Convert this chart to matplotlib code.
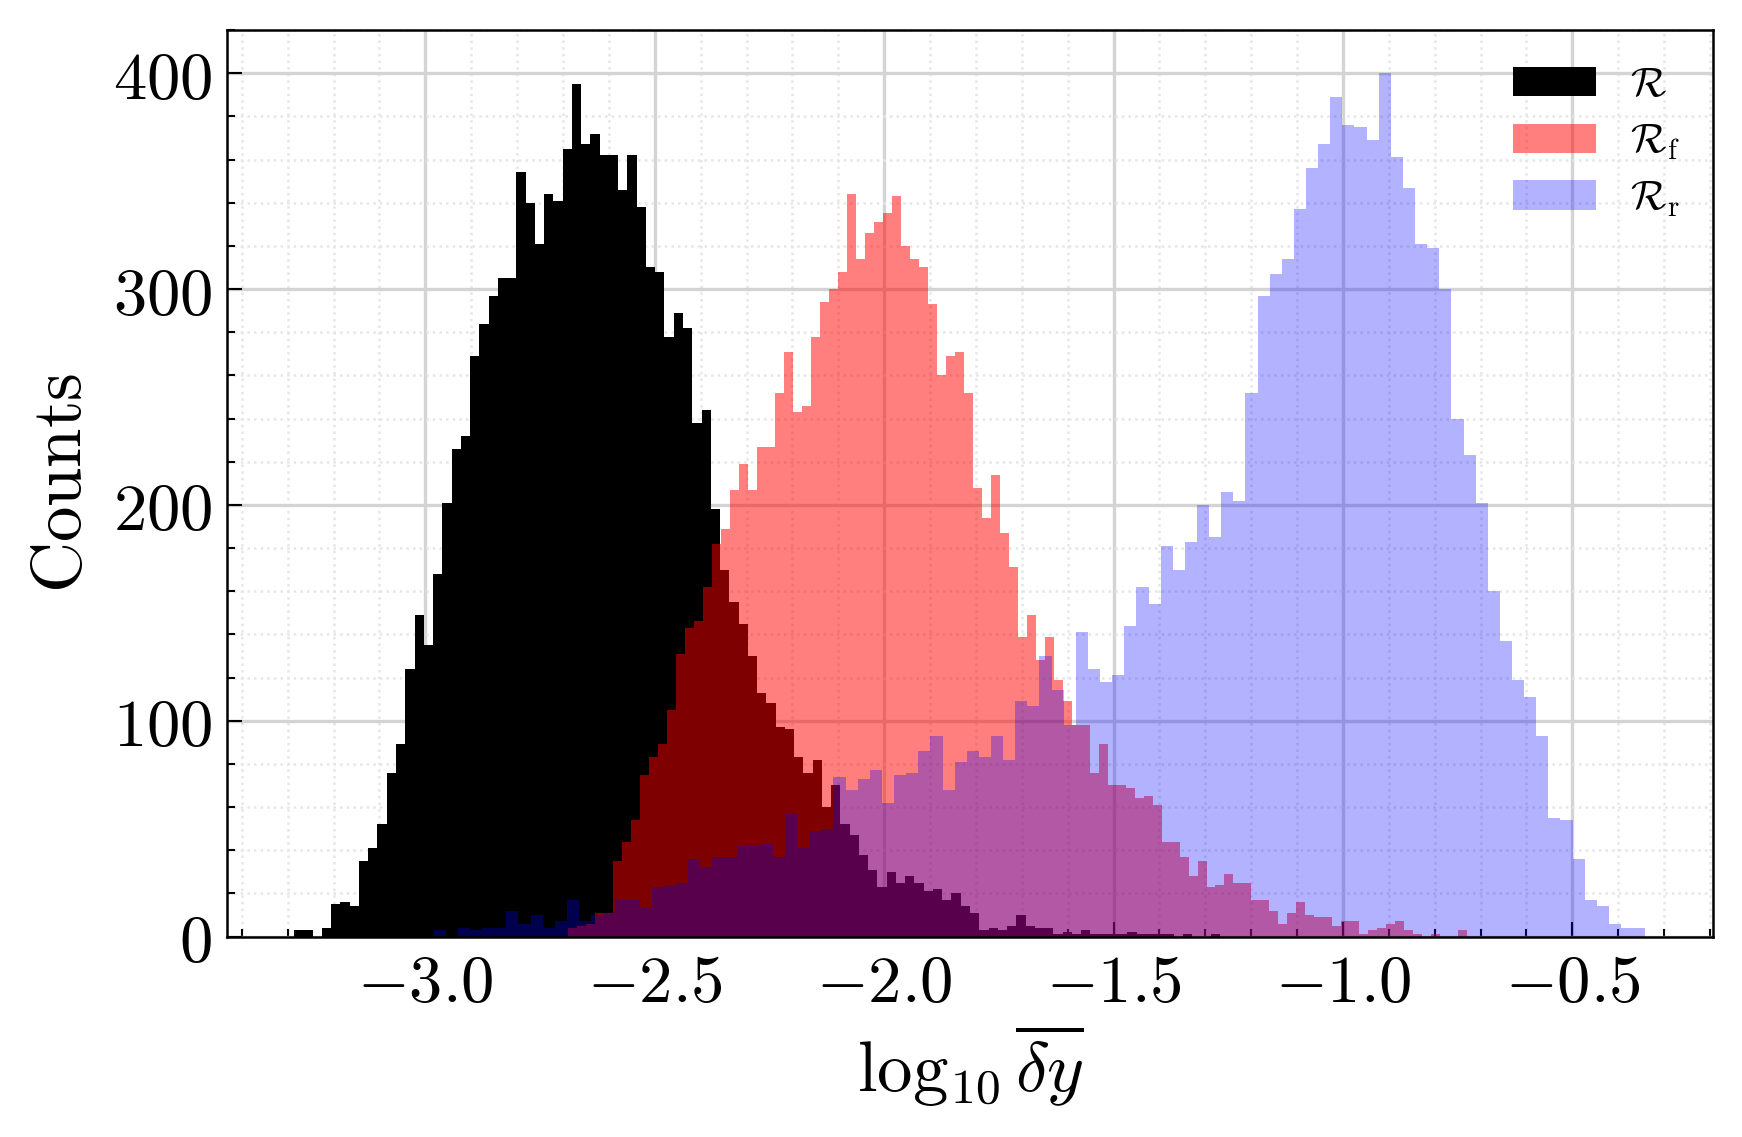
import numpy as np
import matplotlib
matplotlib.use("Agg")
import matplotlib.pyplot as plt
from matplotlib.ticker import MultipleLocator, FuncFormatter

plt.rcParams["mathtext.fontset"] = "cm"
plt.rcParams["font.family"] = "serif"

# Histogram ranges (data min / max of log10 of the mean error) and bin counts, 100 bins each
r_range = (-3.286, -1.268)
r_counts = [3, 3, 0, 4, 15, 16, 14, 35, 41, 52, 76, 89, 124, 149, 135, 168, 201, 226, 232, 269,
            284, 297, 305, 305, 354, 340, 321, 344, 341, 365, 395, 367, 372, 362, 362, 346, 362, 338, 310, 308,
            278, 289, 282, 238, 244, 198, 170, 155, 145, 130, 113, 108, 97, 96, 83, 76, 82, 60, 70, 52,
            47, 38, 31, 23, 30, 25, 28, 25, 21, 22, 17, 20, 14, 11, 3, 4, 3, 5, 10, 5,
            4, 4, 1, 2, 1, 3, 1, 1, 1, 1, 2, 1, 1, 1, 1, 0, 1, 0, 0, 1]

rf_range = (-2.689, -0.729)
rf_counts = [4, 5, 6, 11, 11, 35, 44, 54, 75, 83, 89, 105, 131, 143, 146, 162, 182, 189, 207, 219,
             207, 227, 227, 252, 271, 243, 246, 278, 294, 300, 308, 344, 314, 326, 331, 335, 343, 320, 314, 310,
             293, 260, 269, 271, 252, 208, 194, 214, 187, 171, 139, 149, 128, 139, 119, 109, 98, 98, 76, 89,
             70, 70, 69, 64, 65, 61, 44, 44, 37, 28, 35, 23, 24, 29, 25, 25, 17, 17, 12, 6,
             11, 16, 10, 9, 9, 5, 7, 7, 1, 3, 4, 6, 7, 3, 1, 0, 1, 0, 0, 3]

rr_range = (-2.982, -0.341)
rr_counts = [3, 0, 4, 3, 4, 4, 12, 6, 10, 4, 7, 17, 7, 10, 11, 17, 17, 13, 23, 24,
             25, 36, 32, 37, 37, 42, 42, 43, 37, 57, 41, 49, 50, 74, 68, 73, 77, 62, 75, 76,
             86, 93, 68, 81, 86, 83, 93, 82, 109, 107, 130, 114, 98, 141, 124, 118, 121, 144, 162, 154,
             181, 170, 183, 200, 185, 206, 202, 252, 297, 307, 314, 337, 356, 367, 389, 376, 375, 369, 400, 361,
             347, 321, 319, 300, 240, 223, 201, 160, 137, 119, 111, 93, 55, 54, 36, 17, 14, 6, 4, 4]

series = [
    (r_range, r_counts, "black", 1.0, r"$\mathcal{R}$"),
    (rf_range, rf_counts, "red", 0.5, r"$\mathcal{R}_\mathrm{f}$"),
    (rr_range, rr_counts, "blue", 0.3, r"$\mathcal{R}_\mathrm{r}$"),
]

fig = plt.figure(figsize=(1743 / 300, 1137 / 300), dpi=300)
ax = fig.add_axes([0.130, 0.1763, 0.8527, 0.7973])

for rng, counts, color, alpha, label in series:
    edges = np.linspace(rng[0], rng[1], len(counts) + 1)
    ax.hist(edges[:-1], bins=edges, weights=counts, color=color, alpha=alpha, label=label)

ax.xaxis.set_major_locator(MultipleLocator(0.5))
ax.xaxis.set_minor_locator(MultipleLocator(0.1))
ax.yaxis.set_major_locator(MultipleLocator(100))
ax.yaxis.set_minor_locator(MultipleLocator(20))
ax.xaxis.set_major_formatter(FuncFormatter(lambda v, p: r"$%.1f$" % v))
ax.yaxis.set_major_formatter(FuncFormatter(lambda v, p: r"$%d$" % v))
ax.set_ylim(0, 420)

ax.grid(which="major", color="#d4d4d4", lw=0.8, ls="-")
ax.grid(which="minor", color="#e6e6e6", lw=0.6, ls=":")
ax.set_axisbelow(True)

ax.tick_params(which="both", direction="in", labelsize=16)
ax.tick_params(which="major", length=3.6, width=0.5)
ax.tick_params(which="minor", length=1.9, width=0.5)
for s in ax.spines.values():
    s.set_linewidth(0.6)

ax.set_xlabel(r"$\log_{10}\overline{\delta y}$", fontsize=17, labelpad=1.5)
ax.set_ylabel(r"$\mathrm{Counts}$", fontsize=17)

ax.legend(loc="upper right", frameon=False, fontsize=10, labelspacing=0.35,
          borderaxespad=0.4)

plt.savefig("out.png", dpi=300)
